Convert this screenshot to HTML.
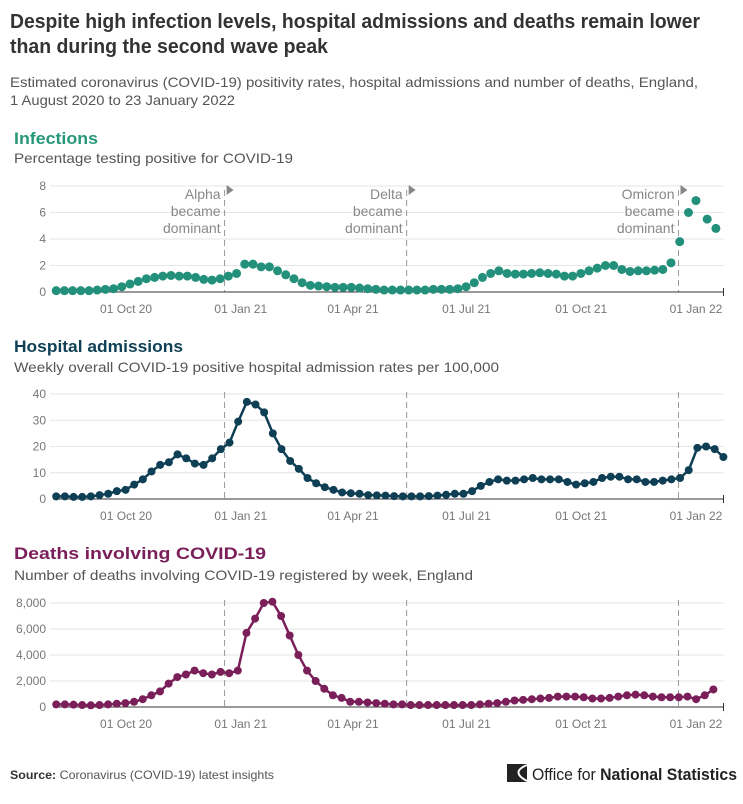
<!DOCTYPE html>
<html><head><meta charset="utf-8"><style>
html,body{margin:0;padding:0;background:#fff;}
svg{display:block;font-family:"Liberation Sans",sans-serif;}
.tk{font-size:12px;fill:#777;}
.ann{font-size:14px;fill:#888;}
</style></head><body>
<svg id="s" width="743" height="804" viewBox="0 0 743 804">
<text x="10" y="28" textLength="690" lengthAdjust="spacingAndGlyphs" font-size="20" font-weight="bold" fill="#333">Despite high infection levels, hospital admissions and deaths remain lower</text>
<text x="10" y="53" textLength="318" lengthAdjust="spacingAndGlyphs" font-size="20" font-weight="bold" fill="#333">than during the second wave peak</text>
<text x="10" y="87" textLength="688" lengthAdjust="spacingAndGlyphs" font-size="14" fill="#555">Estimated coronavirus (COVID-19) positivity rates, hospital admissions and number of deaths, England,</text>
<text x="10" y="105" textLength="225" lengthAdjust="spacingAndGlyphs" font-size="14" fill="#555">1 August 2020 to 23 January 2022</text>

<text x="14" y="144" textLength="84" lengthAdjust="spacingAndGlyphs" font-size="17" font-weight="bold" fill="#27977a">Infections</text>
<text x="14" y="163" textLength="279" lengthAdjust="spacingAndGlyphs" font-size="14" fill="#555">Percentage testing positive for COVID-19</text>
<text x="14" y="352" textLength="169" lengthAdjust="spacingAndGlyphs" font-size="17" font-weight="bold" fill="#0f3f55">Hospital admissions</text>
<text x="14" y="372" textLength="485" lengthAdjust="spacingAndGlyphs" font-size="14" fill="#555">Weekly overall COVID-19 positive hospital admission rates per 100,000</text>
<text x="14" y="559" textLength="252" lengthAdjust="spacingAndGlyphs" font-size="17" font-weight="bold" fill="#7a1f5a">Deaths involving COVID-19</text>
<text x="14" y="580" textLength="459" lengthAdjust="spacingAndGlyphs" font-size="14" fill="#555">Number of deaths involving COVID-19 registered by week, England</text>

<text x="10" y="779" textLength="264" lengthAdjust="spacingAndGlyphs" font-size="12" fill="#555"><tspan font-weight="bold" fill="#333">Source:</tspan> Coronavirus (COVID-19) latest insights</text>
<g>
<rect x="507" y="764" width="20" height="18" fill="#222"/>
<path d="M527 765 Q510 772 527 781" stroke="#fff" stroke-width="2" fill="none"/>
<text x="532" y="780" textLength="205" lengthAdjust="spacingAndGlyphs" font-size="17" fill="#222">Office for <tspan font-weight="bold">National Statistics</tspan></text>
</g>
<g id="charts"></g>
</svg>
<script>
const xTickLabels=["01 Oct 20","01 Jan 21","01 Apr 21","01 Jul 21","01 Oct 21","01 Jan 22"];
const xTickDays=[61,153,243,334,426,518];
const variantNames=["Alpha","Delta","Omicron"];
const variantDays=[140,286,504];
const infValues=[0.1,0.1,0.1,0.1,0.1,0.15,0.2,0.25,0.4,0.6,0.8,1.0,1.1,1.2,1.25,1.2,1.2,1.1,0.95,0.9,1.0,1.2,1.4,2.1,2.1,1.9,1.9,1.6,1.3,1.0,0.7,0.5,0.45,0.4,0.35,0.35,0.35,0.3,0.25,0.2,0.15,0.15,0.15,0.15,0.15,0.15,0.2,0.2,0.2,0.25,0.4,0.7,1.1,1.4,1.6,1.4,1.35,1.35,1.4,1.45,1.4,1.35,1.2,1.2,1.4,1.6,1.8,2.0,2.0,1.7,1.55,1.6,1.6,1.65,1.7,2.2];
const infTailValues=[3.8,6.0,6.9,5.5,4.8];
const infTailDays=[505,512,518,527,534];
const infTicks=[0,2,4,6,8];
const hospValues=[1,1,0.8,0.8,1,1.5,2,3,3.5,5.5,7.5,10.5,13,14,17,15.5,13.5,13,15.5,19,21.5,29.5,37,36,33,25,19,14.5,11.5,8,6,4.5,3.5,2.5,2.2,2,1.5,1.4,1.3,1.1,1,1,1,1.1,1.3,1.6,2,2,3,5,6.5,7.5,7,7,7.5,8,7.5,7.5,7.5,6.5,5.5,6,6.5,8,8.5,8.5,7.5,7.5,6.5,6.5,7,7.5,8,11,19.5,20,19,16];
const hospTicks=[0,10,20,30,40];
const deathValues=[200,200,180,150,130,150,200,250,300,400,600,900,1200,1800,2300,2500,2800,2600,2500,2700,2600,2800,5700,6800,8000,8100,7000,5500,4000,2800,2000,1400,900,700,400,400,350,300,250,200,200,150,150,150,150,150,150,150,150,200,250,300,400,500,550,600,650,700,800,800,800,750,650,650,700,800,900,950,900,800,750,750,750,800,600,900,1350];
const deathTicks=[0,2000,4000,6000,8000];

const NS="http://www.w3.org/2000/svg";
const G=document.getElementById('charts');
function mk(t,a,p){const e=document.createElementNS(NS,t);for(const k in a)e.setAttribute(k,a[k]);(p||G).appendChild(e);return e;}
const x=d=>50+d*1.247;
function panel(o){
  const y=v=>o.y0-(v/o.max)*(o.y0-o.yTop);
  const g=mk('g',{});
  
  
  o.ticks.forEach(t=>{
    if(t>0){const l=mk('line',{x1:50,x2:724,y1:y(t),y2:y(t),stroke:'#e6e6e6','stroke-width':1},g);
      }
    const tx=mk('text',{x:46,y:y(t)+4,'text-anchor':'end',class:'tk'},g);
    
    tx.textContent=t.toLocaleString('en-GB');
  });
  variantDays.forEach((d,i)=>{
    const l=mk('line',{x1:x(d),x2:x(d),y1:o.vTop,y2:o.y0,stroke:'#999','stroke-width':1,'stroke-dasharray':'6,4'},g);
    
    
  });
  const ax=mk('line',{x1:53,x2:724,y1:o.y0,y2:o.y0,stroke:'#333','stroke-width':1},g);
  
  mk('line',{x1:723.5,x2:723.5,y1:o.y0-4,y2:o.y0+4,stroke:'#333'},g);
  xTickDays.forEach((d,i)=>{
    const t=mk('text',{x:x(d),y:o.y0+21,'text-anchor':'middle',class:'tk'},g);
    
    t.textContent=xTickLabels[i];
  });
  const pts=o.pts.map(p=>[x(p[0]),y(p[1])]);
  if(o.line){const pl=mk('polyline',{points:pts.map(p=>p.join(',')).join(' '),fill:'none',stroke:o.color,'stroke-width':2.5},g);
    }
  pts.forEach(p=>{const c=mk('circle',{cx:p[0],cy:p[1],r:o.r,fill:o.color},g);
    });
  return g;
}
function spread(vals,d0,d1){const n=vals.length;return vals.map((v,i)=>[d0+(d1-d0)*i/(n-1),v]);}
const infPts=spread(infValues,5,498).concat(infTailValues.map((v,i)=>[infTailDays[i],v]));
const ig=panel({name:'infections',pts:infPts,ticks:infTicks,max:8,y0:292,yTop:186,vTop:190,color:'#22907a',r:4.5,line:false});
panel({name:'hospital',pts:spread(hospValues,5,540),ticks:hospTicks,max:40,y0:499,yTop:394,vTop:392,color:'#0f3f55',r:4,line:true});
panel({name:'deaths',pts:spread(deathValues,5,532),ticks:deathTicks,max:8000,y0:707,yTop:603,vTop:600,color:'#7a1f5a',r:4,line:true});
variantNames.forEach((n,i)=>{
  const xx=x(variantDays[i])-4;
  const lines=[n,'became','dominant'];
  lines.forEach((s,j)=>{const t=mk('text',{x:xx,y:199+j*17,'text-anchor':'end',class:'ann'},ig);
    t.textContent=s;});
  const tri=mk('path',{d:`M${xx+6} 185 L${xx+13} 190 L${xx+6} 195 Z`,fill:'#888'},ig);
  
});
</script>
</body></html>
